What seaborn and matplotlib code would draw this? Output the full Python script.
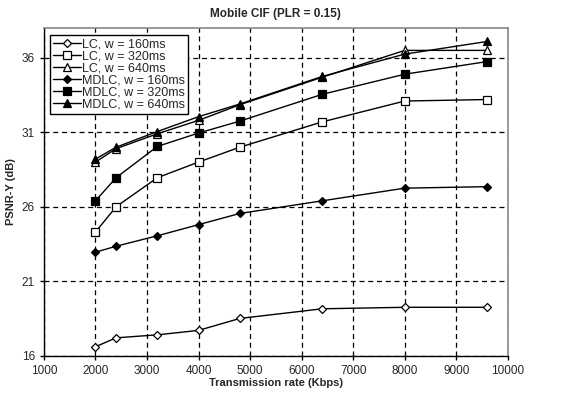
import pandas as pd
import seaborn as sns
import matplotlib.pyplot as plt

rates = [2000, 2400, 3200, 4000, 4800, 6400, 8000, 9600]

lc_160 = [16.6, 17.2, 17.4, 17.7, 18.5, 19.15, 19.25, 19.25]
lc_320 = [24.3, 26.0, 27.95, 29.0, 30.0, 31.7, 33.1, 33.2]
lc_640 = [29.0, 29.9, 30.9, 31.8, 32.85, 34.7, 36.5, 36.5]
mdlc_160 = [22.95, 23.35, 24.05, 24.8, 25.55, 26.4, 27.25, 27.35]
mdlc_320 = [26.4, 27.95, 30.05, 30.95, 31.75, 33.55, 34.9, 35.75]
mdlc_640 = [29.2, 30.0, 31.05, 32.05, 32.9, 34.75, 36.25, 37.1]

series = [
    ("LC, w = 160ms", lc_160, "D", "white"),
    ("LC, w = 320ms", lc_320, "s", "white"),
    ("LC, w = 640ms", lc_640, "^", "white"),
    ("MDLC, w = 160ms", mdlc_160, "D", "black"),
    ("MDLC, w = 320ms", mdlc_320, "s", "black"),
    ("MDLC, w = 640ms", mdlc_640, "^", "black"),
]

sns.set_style("white")
plt.rcParams['font.family'] = ['Liberation Sans', 'DejaVu Sans']

fig = plt.figure(figsize=(5.63, 3.95), dpi=100)
ax = fig.add_axes([0.078, 0.0995, 0.824, 0.8295])

for label, vals, mk, fc in series:
    df = pd.DataFrame({"rate": rates, "psnr": vals})
    ms = {"D": 4.5, "s": 5.2, "^": 5.5}[mk]
    sns.lineplot(data=df, x="rate", y="psnr", ax=ax, color="black", lw=1,
                 marker=mk, markersize=ms, markerfacecolor=fc,
                 markeredgecolor="black", markeredgewidth=0.9, label=label)

ax.set_xlim(1000, 10000)
ax.set_ylim(16, 38)
ax.set_xticks(range(1000, 10001, 1000))
ax.set_yticks([16, 21, 26, 31, 36])
ax.tick_params(axis="both", labelsize=8.5, length=3, width=1, direction="out",
               bottom=True, left=True, color="black")
ax.grid(True, color="black", linestyle=(0, (4, 3)), linewidth=0.9)

for side in ["left", "bottom"]:
    ax.spines[side].set_color("black")
    ax.spines[side].set_linewidth(1)
for side in ["top", "right"]:
    ax.spines[side].set_color("#888888")
    ax.spines[side].set_linewidth(1.2)

ax.set_title("Mobile CIF (PLR = 0.15)", fontsize=8.5, fontweight="bold", pad=8)
ax.set_xlabel("Transmission rate (Kbps)", fontsize=8, fontweight="bold", labelpad=1)
ax.set_ylabel("PSNR-Y (dB)", fontsize=8, fontweight="bold", labelpad=4)

leg = ax.legend(loc="upper left", bbox_to_anchor=(0.008, 0.985), fontsize=9,
                frameon=True, fancybox=False, framealpha=1, edgecolor="black",
                borderpad=0.25, labelspacing=0.0, handlelength=2.2,
                handletextpad=0.1, borderaxespad=0.2)
leg.get_frame().set_linewidth(1)

fig.savefig("out.png", dpi=100)
plt.close(fig)
